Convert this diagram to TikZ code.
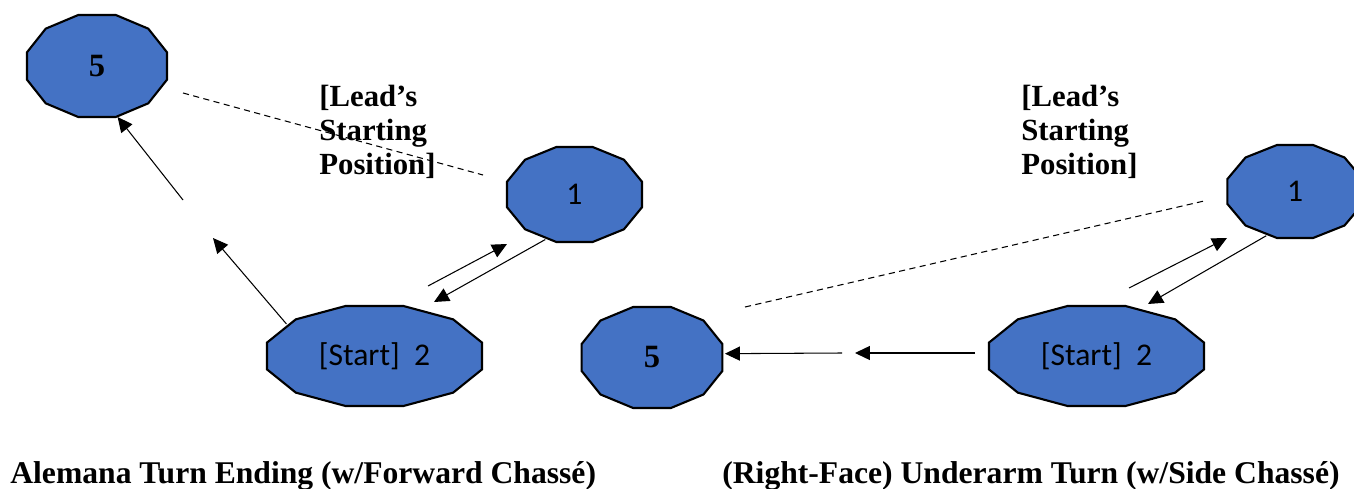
\documentclass[tikz,border=0pt]{standalone}
\usepackage{fontspec}
\setmainfont{Liberation Serif}
\newfontfamily\calibfont{Carlito}
\usetikzlibrary{arrows.meta,shapes.geometric}
\definecolor{stepblue}{RGB}{68,114,196}

% A stretched regular dodecagon with an invisible elliptical node on top
% that carries the name, the label and the anchors.
% #1 name, #2 centre, #3 x radius, #4 y radius, #5 label style, #6 label
\newcommand\dodecnode[6]{%
  \draw[polyshape,shift={#2}] plot[samples at={15,45,...,345}] (\x:#3 and #4) -- cycle;
  \node[ellipse,inner sep=0pt,minimum width={2*#3*0.02cm},
        minimum height={2*#4*0.02cm},#5] (#1) at #2 {#6};
}

\begin{document}
\begin{tikzpicture}[x=0.02cm,y=-0.02cm,
  polyshape/.style={fill=stepblue,draw=black,line width=1.2pt,line join=miter},
  numlabel/.style={font=\bfseries\fontsize{18.5}{20}\selectfont},
  stlabel/.style={font=\calibfont\fontsize{18}{20}\selectfont},
  link/.style={line width=0.6pt,-{Triangle[length=8.5pt,width=8pt]}},
  guide/.style={line width=0.6pt,dash pattern=on 3.5pt off 2.5pt},
  lead/.style={font=\bfseries\fontsize{17.5}{19.6}\selectfont,align=left,
               inner sep=0pt,anchor=base west},
  caption/.style={font=\bfseries\fontsize{18}{20}\selectfont,inner sep=0pt,
                  anchor=base west}]
\useasboundingbox (0,0) rectangle (1354,489);

% ---- Alemana turn ending ----
\dodecnode{fiveL}{(97,66)}{72.5}{52.8}{numlabel}{5}
\dodecnode{oneL}{(574.5,194.5)}{69.9}{49.2}{stlabel}{1}
\dodecnode{startL}{(374.5,356)}{111.3}{51.8}{stlabel}{[Start]~ 2}

% the base anchor of a multi-line node sits on its last line
\node[lead] (leadL) at (319,175) {[Lead’s\\Starting\\Position]};

\coordinate (guideLa) at (183,93);
\coordinate (guideLb) at (483,175);
\draw[guide] (guideLa) -- (guideLb);

\coordinate (gapA) at (213,238);
\coordinate (gapB) at (183,200);
\draw[link] (startL.160) -- (gapA);
\draw[link] (gapB) -- (fiveL.-68.6);

\coordinate (upL) at (428,286);
\coordinate (upLtip) at (507,244);
\coordinate (downLtip) at (434,302);
\draw[link] (upL) -- (upLtip);
\draw[link] (oneL.237.4) -- (downLtip);

\node[caption] (capL) at (10,483) {Alemana Turn Ending (w/Forward Chassé)};

% ---- Right-face underarm turn ----
\dodecnode{fiveR}{(652,357.5)}{72.8}{52.3}{numlabel}{5}
\dodecnode{oneR}{(1295,191.5)}{70}{48.1}{stlabel}{1}
\dodecnode{startR}{(1096.5,356)}{111.3}{51.8}{stlabel}{[Start]~ 2}

\node[lead] (leadR) at (1021,175) {[Lead’s\\Starting\\Position]};

\coordinate (guideRa) at (745,307);
\coordinate (guideRb) at (1204,201);
\draw[guide] (guideRa) -- (guideRb);

\coordinate (sideA) at (975,353);
\coordinate (sideAtip) at (855,353);
\coordinate (sideB) at (842,353);
\draw[link] (sideA) -- (sideAtip);
\draw[link] (sideB) -- (fiveR.3.7);

\coordinate (upR) at (1129,288);
\coordinate (upRtip) at (1227,238);
\coordinate (downRtip) at (1148,304);
\draw[link] (upR) -- (upRtip);
\draw[link] (oneR.237) -- (downRtip);

\node[caption] (capR) at (722,483) {(Right-Face) Underarm Turn (w/Side Chassé)};
\end{tikzpicture}
\end{document}
